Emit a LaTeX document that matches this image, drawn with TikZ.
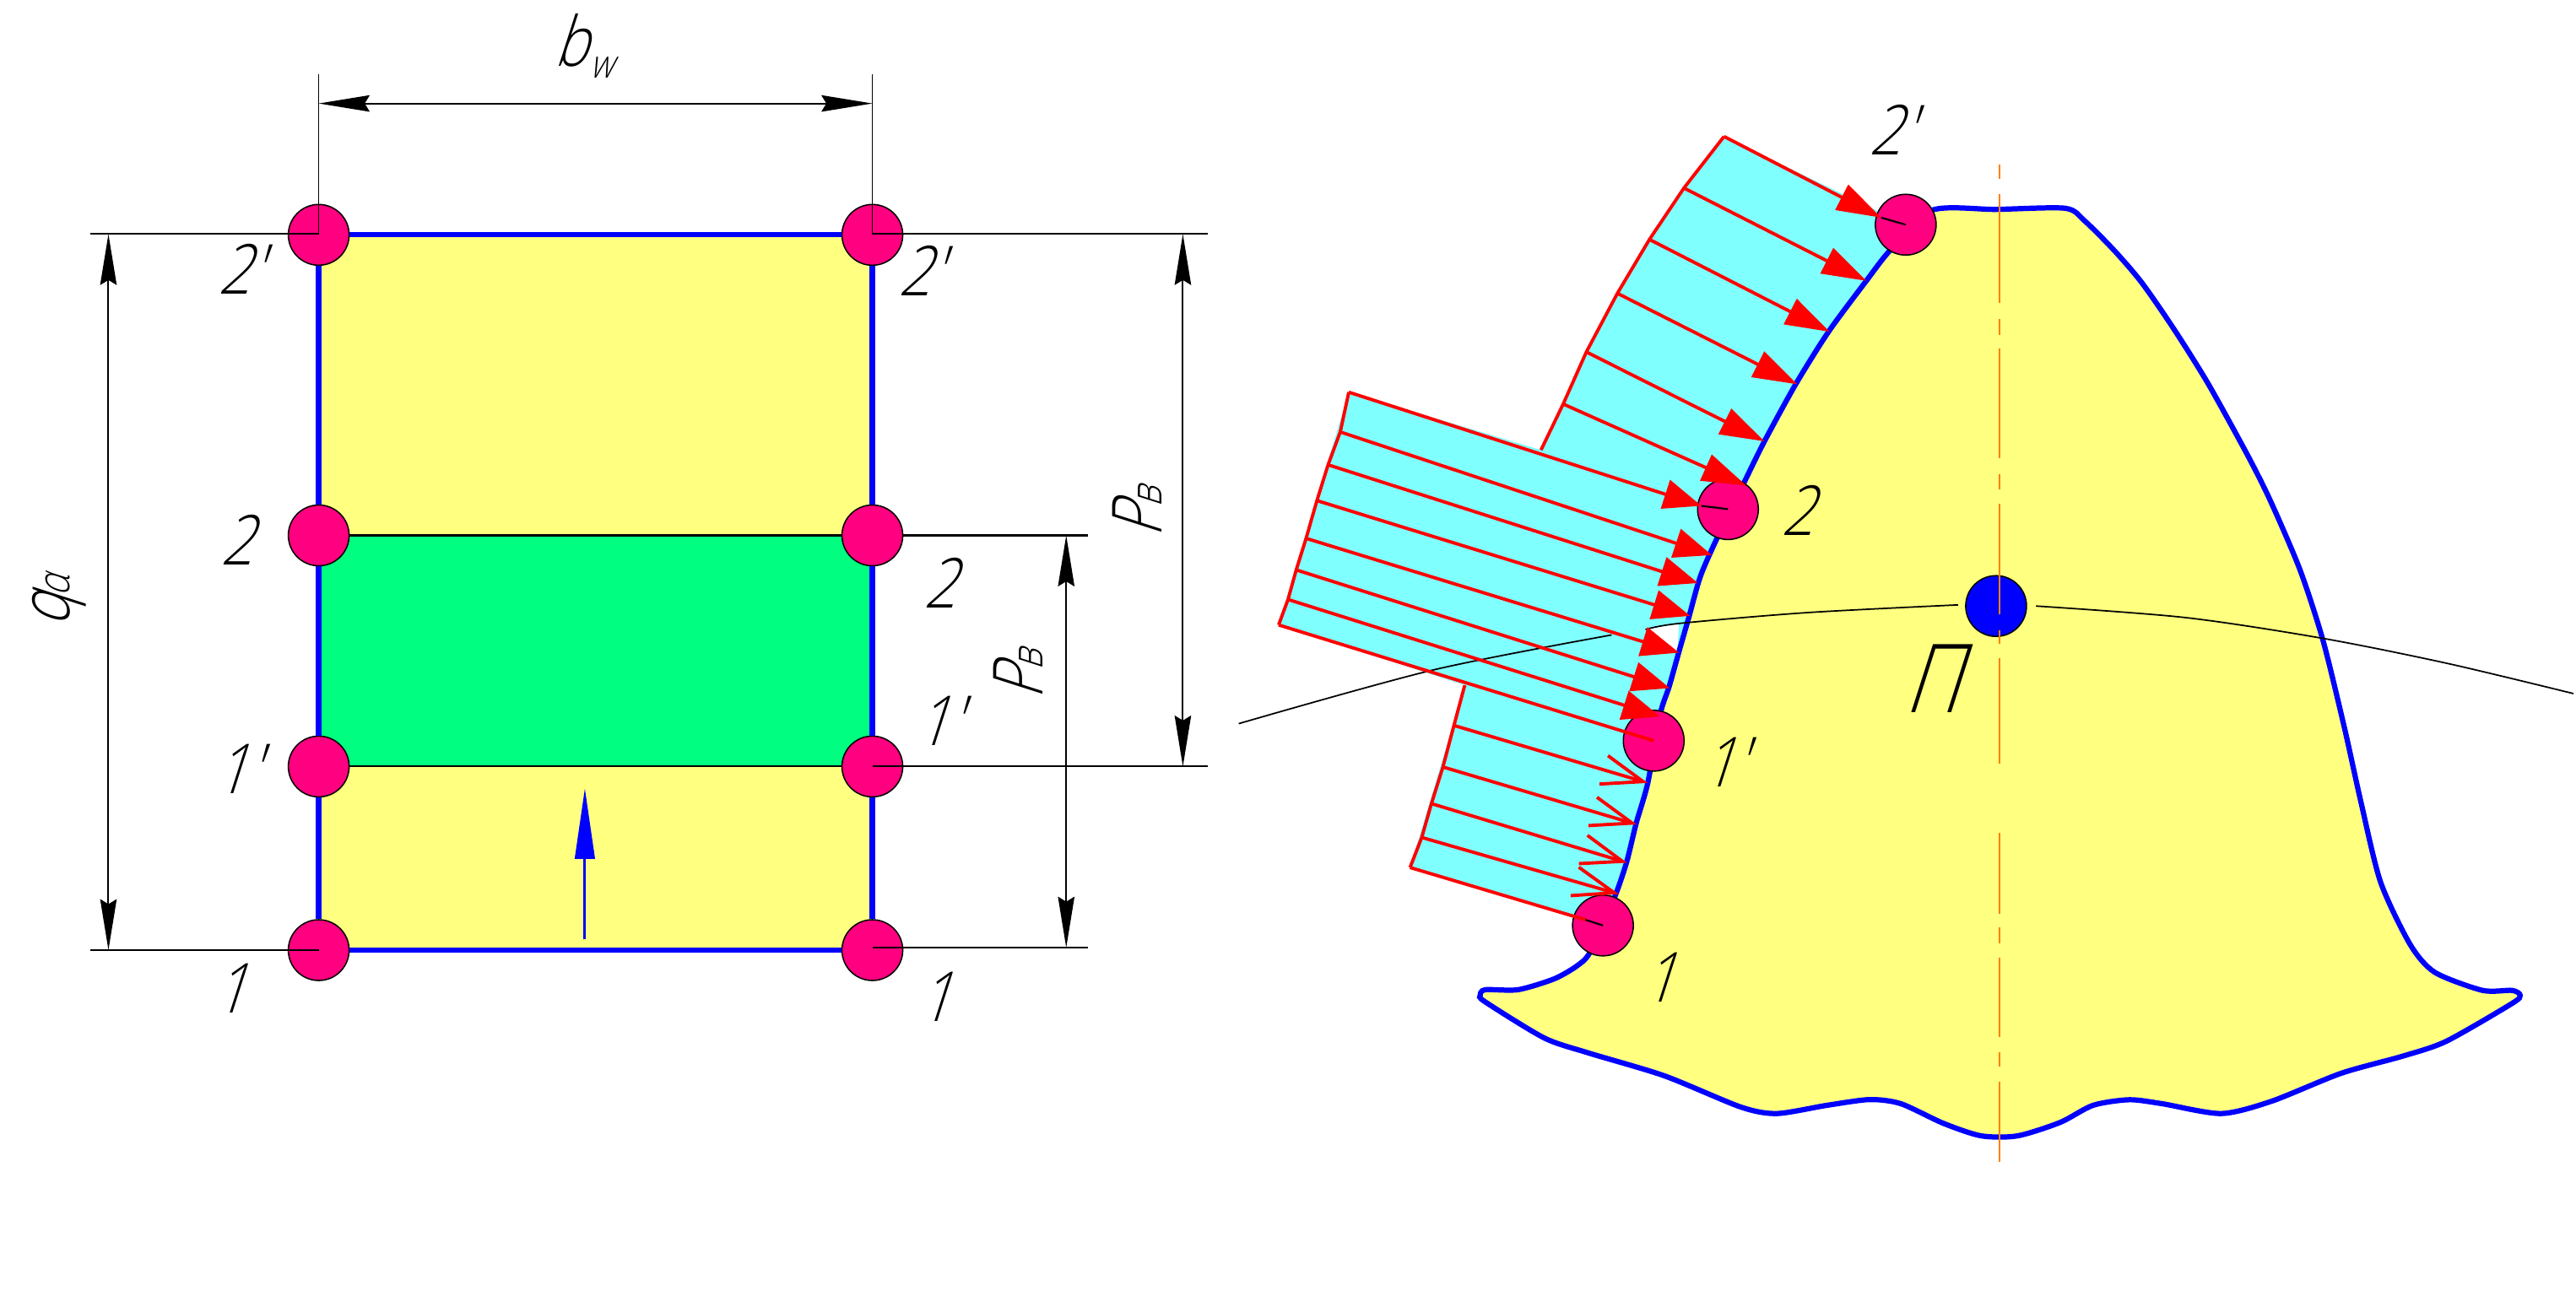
\documentclass[tikz,border=0pt]{standalone}
\usepackage{fontspec}
\usepackage{tikz}
\usetikzlibrary{arrows.meta}
\newfontfamily\gostfont[FakeSlant=0.32,FakeStretch=0.82,UprightFont=* Light]{Open Sans}
\newcommand{\lowsub}[1]{\kern1pt\raisebox{-7pt}{\fontsize{24}{24}\selectfont #1}}
\newcommand{\basesub}[1]{\kern-2pt{\fontsize{27}{27}\selectfont #1}}
\definecolor{fillyellow}{RGB}{255,255,128}
\definecolor{fillgreen}{RGB}{0,255,128}
\definecolor{fillcyan}{RGB}{128,255,255}
\definecolor{pointpink}{RGB}{255,0,128}
\definecolor{axisorange}{RGB}{255,128,0}
\tikzset{
  lbl/.style={inner sep=0pt,font=\gostfont\fontsize{42}{42}\selectfont},
  pt/.style={circle,draw=black,line width=0.8pt,fill=pointpink,minimum size=37pt,inner sep=0pt},
  outline/.style={draw=blue,line width=3.2pt},
  thinline/.style={draw=black,line width=1.1pt},
  dimline/.style={draw=black,line width=1pt,{Stealth[length=31pt,width=10pt,inset=3pt]}-{Stealth[length=31pt,width=10pt,inset=3pt]}},
  redline/.style={draw=red,line width=2pt},
  headbig/.style={redline,-{Triangle[length=27pt,width=17pt]}},
  headmid/.style={redline,-{Triangle[length=23pt,width=18pt]}},
  headopen/.style={redline,-{Straight Barb[length=25pt,width=18pt,line width=2pt]}},
}
\begin{document}
\begin{tikzpicture}[x=1pt,y=-1pt]
   \useasboundingbox (0,0) rectangle (1568,786);
   % contact area
   \fill[fillyellow] (194,143) rectangle (531,578.5);
   \fill[fillgreen] (194,326) rectangle (531,466.7);
   % pressure diagram
   \fill[fillcyan] (1049.4,83.1) -- (1025,114.5) -- (1004,145.8) -- (984.5,178.6) -- (965.6,214.3)
     -- (951.5,246) -- (938,274) -- (821,238.8) -- (778.3,380.5) -- (891.6,417.2) -- (858.3,528.2)
     -- (975.7,563.2) -- (1010,500) -- (1050,350) -- (1160,136.8) -- cycle;
   \fill[white] (1001.6,383.3) -- (1022,379.6) -- (1021,396.7) -- cycle;
   % tooth
   \draw[outline,fill=fillyellow] plot[smooth cycle,tension=0.45] coordinates {
     (1176,128) (1215,127.5) (1257,126.8) (1268.7,134.3) (1286.9,152.5) (1303.6,172) (1323,200)
     (1344,233.5) (1368,277) (1382,305) (1400,347) (1414,390) (1427,443) (1437,488) (1449,537)
     (1467,575) (1482,592) (1511,603) (1529,603) (1534,606) (1529,611) (1489,634) (1462.7,643)
     (1425,653.5) (1382.7,670.5) (1352,678) (1316,672) (1296,669.6) (1274,673) (1254,683.4)
     (1228,691.6) (1206,691.6) (1183,684) (1157,672) (1138,669.5) (1112,673) (1081.5,678)
     (1059.5,674) (1013,655) (966.5,641) (940,632) (904,610) (901,606) (904,602.6) (924,602.6)
     (946,596) (960,588) (968,579.5) (982.5,547) (990,525.3) (996,501) (1003,476.7) (1010.5,435)
     (1016,418) (1022,396.7) (1028,375.8) (1035,351) (1045,328) (1062,293) (1074,268.7)
     (1093,234) (1113,202) (1136,171) (1150.6,152.3)};
   % points
   \node[pt] (a_2s) at (194,143) {};
   \node[pt] (b_2s) at (531,143) {};
   \node[pt] (a_2) at (194,326) {};
   \node[pt] (b_2) at (531,326) {};
   \node[pt] (a_1s) at (194,466.7) {};
   \node[pt] (b_1s) at (531,466.7) {};
   \node[pt] (a_1) at (194,578.5) {};
   \node[pt] (b_1) at (531,578.5) {};
   \node[pt] (t_2s) at (1160,136.8) {};
   \node[pt] (t_2) at (1051.8,310) {};
   \node[pt] (t_1s) at (1006.6,451) {};
   \node[pt] (t_1) at (975.7,563.5) {};
   \node[pt,fill=blue] (t_p) at (1215,369) {};
   % axis
   \foreach \ya/\yb in {100/109,118.4/184.6,194.4/204,212/279,288.6/298,306.8/374,384/392,400.7/465,507/556.4,564.6/574.6,583/631.6,640.6/649.6,658.6/707.5}
     \draw[axisorange,line width=1pt] (1217,\ya) -- (1217,\yb);
   % rectangle edges
   \draw[outline] (a_2s) -- (b_2s);
   \draw[outline] (a_1) -- (b_1);
   \draw[outline] (a_2s) -- (a_2);
   \draw[outline] (a_2) -- (a_1s);
   \draw[outline] (a_1s) -- (a_1);
   \draw[outline] (b_2s) -- (b_2);
   \draw[outline] (b_2) -- (b_1s);
   \draw[outline] (b_1s) -- (b_1);
   \draw[thinline] (a_2) -- (b_2);
   \draw[thinline] (a_1s) -- (b_1s);
   % extension lines
   \coordinate (e_a) at (194,45);
   \coordinate (e_b) at (531,45);
   \coordinate (e_l2) at (55,142.5);
   \coordinate (e_l1) at (55,578.5);
   \coordinate (e_r2s) at (735,142.5);
   \coordinate (e_r2) at (662,326);
   \coordinate (e_r1s) at (735,466.7);
   \coordinate (e_r1) at (662,577);
   \draw[thinline,line width=0.9pt] (e_a) -- (a_2s.center);
   \draw[thinline,line width=0.9pt] (e_b) -- (b_2s.center);
   \draw[thinline] (e_l2) -- (a_2s.center |- e_l2);
   \draw[thinline] (e_l1) -- (a_1.center);
   \draw[thinline] (e_r2s) -- (b_2s.center |- e_r2s);
   \draw[thinline] (e_r2) -- (b_2);
   \draw[thinline] (e_r1s) -- (b_1s.center);
   \draw[thinline] (e_r1) -- (b_1.center |- e_r1);
   % dimensions
   \coordinate (d_w1) at (194,63);
   \coordinate (d_w2) at (531,63);
   \coordinate (d_q1) at (66,142.5);
   \coordinate (d_q2) at (66,578.5);
   \coordinate (d_p1) at (720,142.5);
   \coordinate (d_p2) at (720,466.7);
   \coordinate (d_r1) at (649,326);
   \coordinate (d_r2) at (649,577);
   \draw[dimline] (d_w1) -- (d_w2);
   \draw[dimline] (d_q1) -- (d_q2);
   \draw[dimline] (d_p1) -- (d_p2);
   \draw[dimline] (d_r1) -- (d_r2);
   % motion arrow
   \coordinate (m_0) at (356,572);
   \coordinate (m_1) at (356,480);
   \draw[draw=blue,line width=1.6pt,-{Triangle[length=43pt,width=12pt]}] (m_0) -- (m_1);
   % pitch line
   \draw[thinline,line width=0.9pt] plot[smooth] coordinates {(754,440.6) (872,408) (981,386.6)};
   \draw[thinline,line width=0.9pt] plot[smooth] coordinates {(1001.6,383.3) (1022,379.6) (1100,373) (1191.8,368.3)};
   \draw[thinline,line width=0.9pt] plot[smooth] coordinates {(1239.3,369) (1330,376) (1414,388.7) (1490,404) (1566.4,422.3)};
   % diagram contour
   \foreach \n/\x/\y in {o_1/1049.4/83.1,o_2/1025/114.5,o_3/1004/145.8,o_4/984.5/178.6,o_5/965.6/214.3,o_6/951.5/246,
     o_7/938/274,r_0/821/238.8,r_1/815.8/263,r_2/808.4/283,r_3/801.6/304.8,r_4/795/327.8,r_5/789/347,r_6/784/365,
     r_7/778.3/380.5,l_0/891.6/417.2,l_1/885/441.7,l_2/878.3/467,l_3/871.3/489.3,l_4/865.4/509.9,l_5/858.3/528.2,
     h_1/1136/171,h_2/1113.7/202,h_3/1094/234,h_4/1074/268.7,h_5/1063/295.7,h_0/1145/132.5,
     k_0/1035.6/308,k_1/1042/338,k_2/1033.5/355,k_3/1028.8/375,k_4/1022/397.4,k_5/1016.4/419,k_6/1010.5/436.3,
     n_1/1003/476.7,n_2/996.3/502,n_3/990.4/525.3,n_4/985.4/544.4,n_5/965/560}
     \coordinate (\n) at (\x,\y);
   \draw[redline,line join=round] (o_1) -- (o_2) -- (o_3) -- (o_4) -- (o_5) -- (o_6) -- (o_7);
   \draw[redline,line join=round] (r_0) -- (r_1) -- (r_2) -- (r_3) -- (r_4) -- (r_5) -- (r_6) -- (r_7);
   \draw[redline,line join=round] (l_0) -- (l_1) -- (l_2) -- (l_3) -- (l_4) -- (l_5);
   % leaders inside the points
   \draw[thinline] (h_0) -- (t_2s.center);
   \draw[thinline] (k_0) -- (t_2.center);
   \draw[thinline] (n_5) -- (t_1.center);
   % load arrows
   \draw[headbig] (o_1) -- (h_0);
   \foreach \i/\j in {2/1,3/2,4/3,5/4,6/5}
     \draw[headbig] (o_\i) -- (h_\j);
   \foreach \i in {0,...,6}
     \draw[headmid] (r_\i) -- (k_\i);
   \draw[redline] (r_7) -- (t_1s.center);
   \foreach \i in {1,...,4}
     \draw[headopen] (l_\i) -- (n_\i);
   \draw[redline] (l_5) -- (n_5);
   % labels
   \node[lbl] (lb_w) at (355,28) {b\lowsub{w}};
   \node[lbl,rotate=90] (lb_q) at (36,366) {q\basesub{α}};
   \node[lbl,rotate=90] (lb_p1) at (692,312) {P\basesub{в}};
   \node[lbl,rotate=90] (lb_p2) at (620,411) {P\basesub{в}};
   \node[lbl] (lb_a2s) at (146,164) {2′};
   \node[lbl] (lb_b2s) at (560,165) {2′};
   \node[lbl] (lb_a2) at (144,329) {2};
   \node[lbl] (lb_b2) at (572,355) {2};
   \node[lbl] (lb_a1s) at (144,468) {1′};
   \node[lbl] (lb_b1s) at (571,439) {1′};
   \node[lbl] (lb_a1) at (140,602) {1};
   \node[lbl] (lb_b1) at (569,607) {1};
   \node[lbl] (lb_t2s) at (1151,79) {2′};
   \node[lbl] (lb_t2) at (1094,311) {2};
   \node[lbl] (lb_t1s) at (1049,464) {1′};
   \node[lbl] (lb_t1) at (1010,595) {1};
   \node[lbl,font=\gostfont\fontsize{58}{58}\selectfont] (lb_p) at (1176,413) {П};
\end{tikzpicture}
\end{document}
